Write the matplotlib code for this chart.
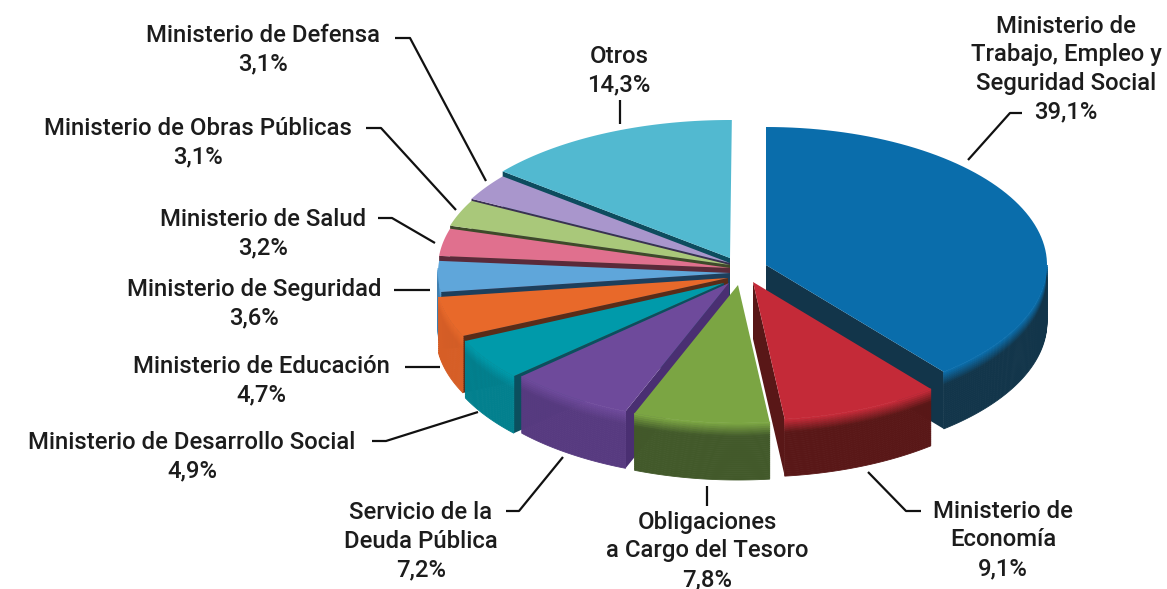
import matplotlib
matplotlib.use('Agg')
import matplotlib.pyplot as plt
from matplotlib.patches import Polygon
from matplotlib.colors import to_rgb
import numpy as np

plt.rcParams['font.family'] = ['Roboto', 'DejaVu Sans']

# data, clockwise from 12 o'clock
names = ['Ministerio de\nTrabajo, Empleo y\nSeguridad Social', 'Ministerio de\nEconomía',
         'Obligaciones\na Cargo del Tesoro', 'Servicio de la\nDeuda Pública',
         'Ministerio de Desarrollo Social', 'Ministerio de Educación',
         'Ministerio de Seguridad', 'Ministerio de Salud',
         'Ministerio de Obras Públicas', 'Ministerio de Defensa', 'Otros']
shares = [39.1, 9.1, 7.8, 7.2, 4.9, 4.7, 3.6, 3.2, 3.1, 3.1, 14.3]

# styles, same order as the data
tops = ['#0a6dab', '#c42a38', '#7ba543', '#6e4a9b', '#009aaa', '#e8692a',
        '#5fa6da', '#e0708e', '#a9c87a', '#a996cc', '#52b9d0']
walls = ['#12354a', '#591717', '#42592a', '#573a80', '#02808e', '#d65e26',
         '#3f7fb0', '#a84a62', '#7c9658', '#7a689c', '#0d4c5e']
cuts = ['#12354a', '#591717', '#42592a', '#4a2f72', '#0b4f5e', '#5a2c18',
        '#1d3f5c', '#5a2a3a', '#3e4a2a', '#3a3050', '#0d4c5e']
offsets = [(36, 7), (23, 24), (8, 27), (-1, 25), (-6, 25), (-2, 20),
           (0, 15), (0, 10), (0, 7), (0, 5), (0, 0)]
widths = [281, 281, 281, 281, 285, 292, 292, 292, 292, 292, 292]
cut_side = ['end', 'end', None, 'start', 'start', 'start', 'start', 'start', 'start', 'start', 'start']
draw_order = [0, 10, 9, 8, 7, 6, 5, 4, 3, 1, 2]

cx, cy = 730, 258
ry = 138
depth = 57

# label block centres and leader lines, in pixels
label_pos = [(1066, 69), (1003, 540), (707, 551), (421, 541), (192, 457),
             (261, 381), (254, 304), (263, 234), (198, 143), (263, 50), (619, 71)]
leaders = [[(1022, 113), (1010, 113), (968, 160)],
           [(921, 511), (906, 511), (868, 472)],
           [(707, 486), (707, 506)],
           [(506, 511), (519, 511), (563, 457)],
           [(372, 441), (386, 441), (478, 412)],
           [(405, 367), (440, 367)],
           [(394, 290), (430, 290)],
           [(378, 218), (392, 218), (435, 243)],
           [(366, 128), (381, 128), (456, 210)],
           [(395, 38), (410, 38), (486, 181)],
           [(620, 100), (620, 124)]]


def mix(a, b, f):
    a, b = np.array(to_rgb(a)), np.array(to_rgb(b))
    return tuple(a + (b - a) * f)


def ring(x0, y0, rx, t):
    return np.column_stack([x0 + rx * np.sin(t), y0 - ry * np.cos(t)])


fig = plt.figure(figsize=(11.67, 5.89), dpi=100)
ax = fig.add_axes([0, 0, 1, 1])
ax.set_xlim(0, 1167)
ax.set_ylim(589, 0)
ax.axis('off')

edges = np.radians(np.concatenate([[0], np.cumsum(shares)]) * 3.6)

for z, i in enumerate(draw_order):
    x0 = cx + offsets[i][0]
    y0 = cy + offsets[i][1]
    rx = widths[i]
    t1, t2 = edges[i], edges[i + 1]
    t = np.linspace(t1, t2, 80)

    # cut face showing under the wedge
    if cut_side[i]:
        te = t1 if cut_side[i] == 'start' else t2
        c = ring(x0, y0, rx, np.array([te]))[0]
        ax.add_patch(Polygon([(x0, y0), c, (c[0], c[1] + depth), (x0, y0 + depth)],
                             fc=cuts[i], ec='none', zorder=1 + z * 3))

    # outer wall, only the part facing us
    a = max(t1, np.radians(90))
    b = min(t2, np.radians(272))
    if b > a:
        arc = ring(x0, y0, rx, np.linspace(a, b, 80))
        layers = np.linspace(0, 1, 29)
        for k in range(len(layers) - 1):
            f = min(1, layers[k] * 4.5)
            col = mix(tops[i], walls[i], f)
            upper = arc + [0, depth * layers[k]]
            lower = arc + [0, depth * layers[k + 1]]
            ax.add_patch(Polygon(np.vstack([upper, lower[::-1]]), fc=col, ec=col, lw=0.6,
                                 zorder=2 + z * 3))

    # top of the wedge
    ax.add_patch(Polygon(np.vstack([[(x0, y0)], ring(x0, y0, rx, t)]), fc=tops[i], ec='none',
                         zorder=3 + z * 3))

for name, share, (lx, ly), line in zip(names, shares, label_pos, leaders):
    txt = name + '\n' + f'{share:.1f}'.replace('.', ',') + '%'
    ax.text(lx, ly, txt, ha='center', va='center', fontsize=17.2, fontweight='medium',
            color='#1c1c1c', linespacing=1.3, zorder=60)
    ax.plot(*zip(*line), color='#111111', lw=1.6, zorder=50, solid_capstyle='butt')

fig.savefig('out.png', dpi=100)
